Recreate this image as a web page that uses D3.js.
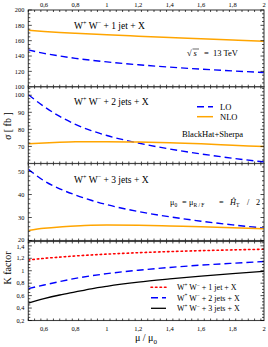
<!DOCTYPE html>
<html><head><meta charset="utf-8">
<script src="https://cdn.jsdelivr.net/npm/d3@7"></script>
<style>body{margin:0;background:#fff}svg{display:block}text{font-family:"Liberation Serif","DejaVu Serif",serif;fill:#000}</style>
</head><body><svg id="c" width="268" height="347"></svg>
<script>
const mu = [0.5,0.6,0.7,0.8,0.9,1.0,1.2,1.4,1.6,1.8,2.0];
const lo1  = [148,143.5,140,137,134.5,132.3,128.6,125.5,122.9,120.6,118.5];
const nlo1 = [173.5,172,170.7,169.6,168.6,167.6,165.9,164.2,162.6,161,159.3];
const lo2  = [100.3,93.4,87.6,82.9,79.3,76.4,72,68.5,65.6,63.1,60.9];
const nlo2 = [71.5,72.0,72.4,72.7,72.8,72.8,72.6,72.1,71.5,70.7,69.9];
const lo3  = [51,46,42.5,39.8,37.5,35.6,32.6,30.3,28.4,26.8,25.4];
const nlo3 = [24.4,25.3,25.9,26.3,26.6,26.7,26.6,26.3,26.0,25.6,25.1];
const k1 = [1.172,1.199,1.219,1.238,1.254,1.267,1.290,1.308,1.323,1.335,1.345];
const k2 = [0.713,0.771,0.826,0.877,0.918,0.953,1.008,1.053,1.09,1.12,1.148];
const k3 = [0.478,0.55,0.61,0.66,0.71,0.75,0.816,0.868,0.915,0.955,0.99];
const xTicks = [0.6,0.8,1,1.2,1.4,1.6,1.8,2];
const xTickLabels = ["0,6","0,8","1","1,2","1,4","1,6","1,8","2"];
const p1Ticks = [100,120,140,160,180,200];
const p2Ticks = [70,80,90,100];
const p3Ticks = [20,30,40,50];
const kTicks = [0.2,0.4,0.6,0.8,1,1.2,1.4];
const kTickLabels = ["0,2","0,4","0,6","0,8","1","1,2","1,4"];

const svg = d3.select("#c");
const X0 = 28.3, X1 = 264;
const x = d3.scaleLinear().domain([0.5,2]).range([X0,X1]);

const panels = [
  {y0:10, y1:86.7, dom:[100,200], ticks:p1Ticks, minor:5, series:[{d:lo1,t:"lo"},{d:nlo1,t:"nlo"}]},
  {y0:86.7, y1:163.5, dom:[60,105], ticks:p2Ticks, minor:2, series:[{d:lo2,t:"lo"},{d:nlo2,t:"nlo"}]},
  {y0:163.5, y1:240.5, dom:[20,53.5], ticks:p3Ticks, minor:2, series:[{d:lo3,t:"lo"},{d:nlo3,t:"nlo"}], lblShift:{20:-1}},
  {y0:241.5, y1:320.5, dom:[0.2,1.47], ticks:kTicks, labels:kTickLabels, minor:0.05, series:[{d:k1,t:"k1"},{d:k2,t:"k2"},{d:k3,t:"k3"}], lblShift:{1.4:1}}
];
const styles = {
  lo:{stroke:"#0000ff", w:1.4, dash:"7,4"},
  nlo:{stroke:"#ffa500", w:1.5, dash:null},
  k1:{stroke:"#ff0000", w:1.6, dash:"1.5,3"},
  k2:{stroke:"#0000ff", w:1.4, dash:"7,4"},
  k3:{stroke:"#000000", w:1.3, dash:null}
};

const xMinor = d3.range(0.5, 2.0001, 0.04).map(v=>+v.toFixed(2));

panels.forEach((p,i)=>{
  const y = d3.scaleLinear().domain(p.dom).range([p.y1,p.y0]);
  const g = svg.append("g");
  const cid = "clip"+i;
  svg.append("clipPath").attr("id",cid).append("rect")
    .attr("x",X0).attr("y",p.y0).attr("width",X1-X0).attr("height",p.y1-p.y0);
  const line = d3.line().x((d,j)=>x(mu[j])).y(d=>y(d)).curve(d3.curveMonotoneX);
  p.series.forEach(s=>{
    const st = styles[s.t];
    g.append("path").attr("clip-path",`url(#${cid})`).attr("d",line(s.d))
      .attr("fill","none").attr("stroke",st.stroke).attr("stroke-width",st.w)
      .attr("stroke-dasharray",st.dash).attr("stroke-linecap", s.t==="k1"?"round":"butt");
  });
  g.append("rect").attr("x",X0).attr("y",p.y0).attr("width",X1-X0).attr("height",p.y1-p.y0)
    .attr("fill","none").attr("stroke","#444").attr("stroke-width",1.1);
  xMinor.forEach(v=>{
    const major = xTicks.some(t=>Math.abs(t-v)<1e-6);
    const L = major?3.5:2;
    g.append("line").attr("x1",x(v)).attr("x2",x(v)).attr("y1",p.y0).attr("y2",p.y0+L).attr("stroke","#000").attr("stroke-width",0.7);
    g.append("line").attr("x1",x(v)).attr("x2",x(v)).attr("y1",p.y1).attr("y2",p.y1-L).attr("stroke","#000").attr("stroke-width",0.7);
  });
  const eps = 1e-6;
  const minorVals = d3.range(p.dom[0], p.dom[1]+eps, p.minor);
  minorVals.forEach(v=>{
    const major = p.ticks.some(t=>Math.abs(t-v)<1e-6);
    const L = major?3.5:2;
    g.append("line").attr("x1",X0).attr("x2",X0+L).attr("y1",y(v)).attr("y2",y(v)).attr("stroke","#000").attr("stroke-width",0.7);
    g.append("line").attr("x1",X1).attr("x2",X1-L).attr("y1",y(v)).attr("y2",y(v)).attr("stroke","#000").attr("stroke-width",0.7);
  });
  p.ticks.forEach((t,j)=>{
    const sh = (p.lblShift && p.lblShift[t]) || 0;
    g.append("text").attr("x",X0-4).attr("y",y(t)+2.2+sh).attr("text-anchor","end")
      .attr("font-size",6.3).text(p.labels?p.labels[j]:t);
  });
});

xTicks.forEach((t,j)=>{
  svg.append("text").attr("x",x(t)).attr("y",6.5).attr("text-anchor","middle").attr("font-size",6.5).text(xTickLabels[j]);
  svg.append("text").attr("x",x(t)).attr("y",330.5).attr("text-anchor","middle").attr("font-size",6.5).text(xTickLabels[j]);
});

function proc(xp, yp, rest, fs){
  const t = svg.append("text").attr("x",xp).attr("y",yp).attr("font-size",fs);
  t.append("tspan").text("W");
  t.append("tspan").attr("dy",-fs*0.4).attr("font-size",fs*0.65).text("+");
  t.append("tspan").attr("dy",fs*0.4).text(" W");
  t.append("tspan").attr("dy",-fs*0.4).attr("font-size",fs*0.65).text("−");
  t.append("tspan").attr("dy",fs*0.4).text(rest);
  return t;
}
proc(74, 29, " + 1 jet + X", 9.5);
proc(74, 105, " + 2 jets + X", 9.5);
proc(74, 183, " + 3 jets + X", 9.5);

svg.append("text").attr("x",187).attr("y",56).attr("font-size",8.5).text("√");
svg.append("line").attr("x1",192.5).attr("x2",199).attr("y1",49).attr("y2",49).attr("stroke","#000").attr("stroke-width",0.6);
svg.append("text").attr("x",193.5).attr("y",56).attr("font-size",8.5).attr("font-style","italic").text("s");
svg.append("text").attr("x",204).attr("y",56).attr("font-size",8.5).text("=");
svg.append("text").attr("x",213).attr("y",56).attr("font-size",8.5).text("13 TeV");

svg.append("line").attr("x1",197).attr("x2",213).attr("y1",106.7).attr("y2",106.7)
  .attr("stroke","#0000ff").attr("stroke-width",1.4).attr("stroke-dasharray","7,4");
svg.append("text").attr("x",220).attr("y",109.7).attr("font-size",8.5).text("LO");
svg.append("line").attr("x1",197).attr("x2",213).attr("y1",116.7).attr("y2",116.7)
  .attr("stroke","#ffa500").attr("stroke-width",1.5);
svg.append("text").attr("x",220).attr("y",119.7).attr("font-size",8.5).text("NLO");
svg.append("text").attr("x",182).attr("y",137).attr("font-size",8.6).text("BlackHat+Sherpa");

const sy = 204.5, fs = 8.2, sub = 5.5;
function subText(xp, main, s, italic){
  const t = svg.append("text").attr("x",xp).attr("y",sy).attr("font-size",fs);
  t.append("tspan").attr("font-style",italic?"italic":null).text(main);
  t.append("tspan").attr("dy",2).attr("font-size",sub).text(s);
}
subText(170, "μ", "0");
svg.append("text").attr("x",182).attr("y",sy).attr("font-size",fs).text("=");
subText(189, "μ", "R / F");
svg.append("text").attr("x",219).attr("y",sy).attr("font-size",fs).text("=");
subText(230, "Ĥ", "T", true);
svg.append("text").attr("x",247).attr("y",sy).attr("font-size",fs).text("/");
svg.append("text").attr("x",256).attr("y",sy).attr("font-size",fs).text("2");

const kl = [{t:"k1",y:287.3,r:" + 1 jet + X"},{t:"k2",y:297.7,r:" + 2 jets + X"},{t:"k3",y:308.3,r:" + 3 jets + X"}];
kl.forEach(k=>{
  const st = styles[k.t];
  svg.append("line").attr("x1",151).attr("x2",166).attr("y1",k.y).attr("y2",k.y)
    .attr("stroke",st.stroke).attr("stroke-width",st.w).attr("stroke-dasharray",st.dash)
    .attr("stroke-linecap",k.t==="k1"?"round":"butt");
  proc(177, k.y+2.8, k.r, 8);
});

const sig = svg.append("text").attr("transform","translate(11,126) rotate(-90)").attr("text-anchor","middle").attr("font-size",10);
sig.append("tspan").attr("font-style","italic").text("σ");
sig.append("tspan").text("  [ fb ]");
svg.append("text").attr("transform","translate(11,268) rotate(-90)").attr("text-anchor","middle").attr("font-size",10).text("K factor");
const xt = svg.append("text").attr("x",146).attr("y",341).attr("text-anchor","middle").attr("font-size",10);
xt.append("tspan").text("μ / μ");
xt.append("tspan").attr("dy",2.5).attr("font-size",7).text("0");
</script></body></html>
